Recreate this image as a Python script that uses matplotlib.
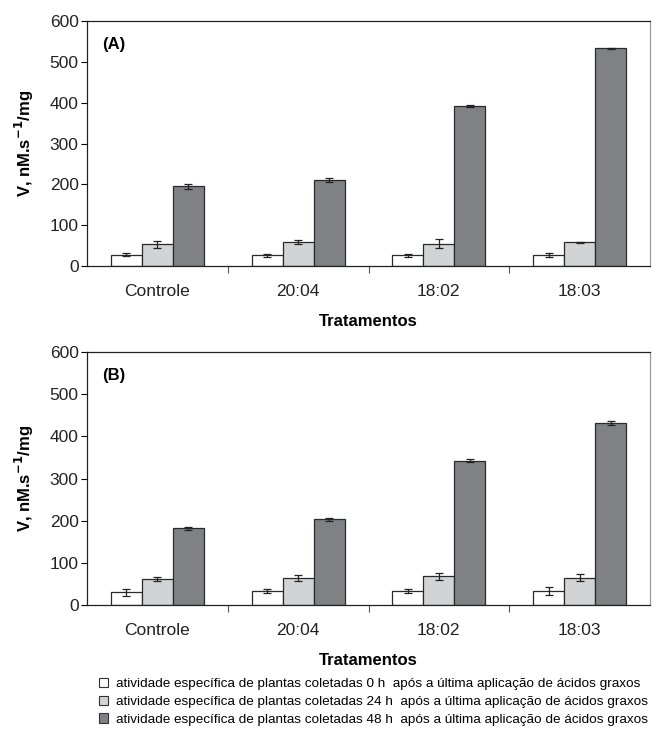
import matplotlib
matplotlib.use("Agg")
import matplotlib.pyplot as plt
import numpy as np
from matplotlib.patches import Patch

plt.rcParams['font.family'] = ['Liberation Sans', 'DejaVu Sans']

categories = ["Controle", "20:04", "18:02", "18:03"]
series_labels = [
    "atividade específica de plantas coletadas 0 h  após a última aplicação de ácidos graxos",
    "atividade específica de plantas coletadas 24 h  após a última aplicação de ácidos graxos",
    "atividade específica de plantas coletadas 48 h  após a última aplicação de ácidos graxos",
]
colors = ["#ffffff", "#d2d3d5", "#808184"]

a_0h = [28, 26, 26, 26]
a_24h = [53, 58, 55, 58]
a_48h = [195, 210, 392, 533]
a_0h_err = [4, 4, 4, 5]
a_24h_err = [8, 5, 10, 2]
a_48h_err = [6, 5, 3, 2]

b_0h = [30, 33, 33, 33]
b_24h = [62, 63, 68, 65]
b_48h = [182, 203, 342, 432]
b_0h_err = [8, 5, 5, 9]
b_24h_err = [4, 7, 9, 8]
b_48h_err = [3, 3, 4, 4]

yticks = [0, 100, 200, 300, 400, 500, 600]

fig = plt.figure(figsize=(6.57, 7.29), dpi=100)
axA = fig.add_axes([87/657, 1-266/729, (650-87)/657, (266-21)/729])
axB = fig.add_axes([87/657, 1-605/729, (650-87)/657, (605-352)/729])

w = 0.22
x = np.arange(len(categories))

def draw(ax, vals, errs, tag):
    for i, (v, e) in enumerate(zip(vals, errs)):
        ax.bar(x + (i-1)*w, v, width=w, color=colors[i], edgecolor="#2a2a2a",
               linewidth=0.9, zorder=2)
        ax.errorbar(x + (i-1)*w, v, yerr=e, fmt='none', ecolor='#222222',
                    elinewidth=0.9, capsize=3, capthick=0.9, zorder=3)
    ax.set_xlim(-0.5, 3.5)
    ax.set_ylim(0, 600)
    ax.set_yticks(yticks)
    ax.set_yticklabels([str(t) for t in yticks], fontsize=12.5, color="#222222")
    ax.set_xticks(np.arange(0.5, 3.5, 1.0))
    ax.set_xticklabels([])
    ax.set_xticks(x, minor=True)
    ax.set_xticklabels(categories, minor=True, fontsize=12.5, color="#222222")
    ax.tick_params(axis='x', which='major', direction='out', length=5, width=0.8, color='#555555')
    ax.tick_params(axis='x', which='minor', length=0, pad=13)
    ax.tick_params(axis='y', direction='out', length=4, width=0.8, pad=2)
    ax.set_ylabel("V, nM.s$^{\\mathbf{-1}}$/mg", fontsize=12, fontweight='bold', labelpad=10)
    ax.set_xlabel("Tratamentos", fontsize=12, fontweight='bold', labelpad=11)
    for s in ['left', 'top', 'bottom']:
        ax.spines[s].set_color('#222222')
        ax.spines[s].set_linewidth(0.9)
    ax.spines['right'].set_color('#999999')
    ax.spines['right'].set_linewidth(0.9)
    ax.text(0.027, 0.935, tag, transform=ax.transAxes, fontsize=12,
            fontweight='bold', va='top', ha='left')

draw(axA, [a_0h, a_24h, a_48h], [a_0h_err, a_24h_err, a_48h_err], "(A)")
draw(axB, [b_0h, b_24h, b_48h], [b_0h_err, b_24h_err, b_48h_err], "(B)")

handles = [Patch(facecolor=colors[i], edgecolor='#333333', linewidth=0.8) for i in range(3)]
fig.legend(handles, series_labels, loc='upper left',
           bbox_to_anchor=(99/657, 1-678/729), frameon=False, fontsize=9.7,
           handlelength=0.7, handleheight=0.7, handletextpad=0.55,
           labelspacing=0.38, borderpad=0, borderaxespad=0)

fig.savefig("out.png", dpi=100)
